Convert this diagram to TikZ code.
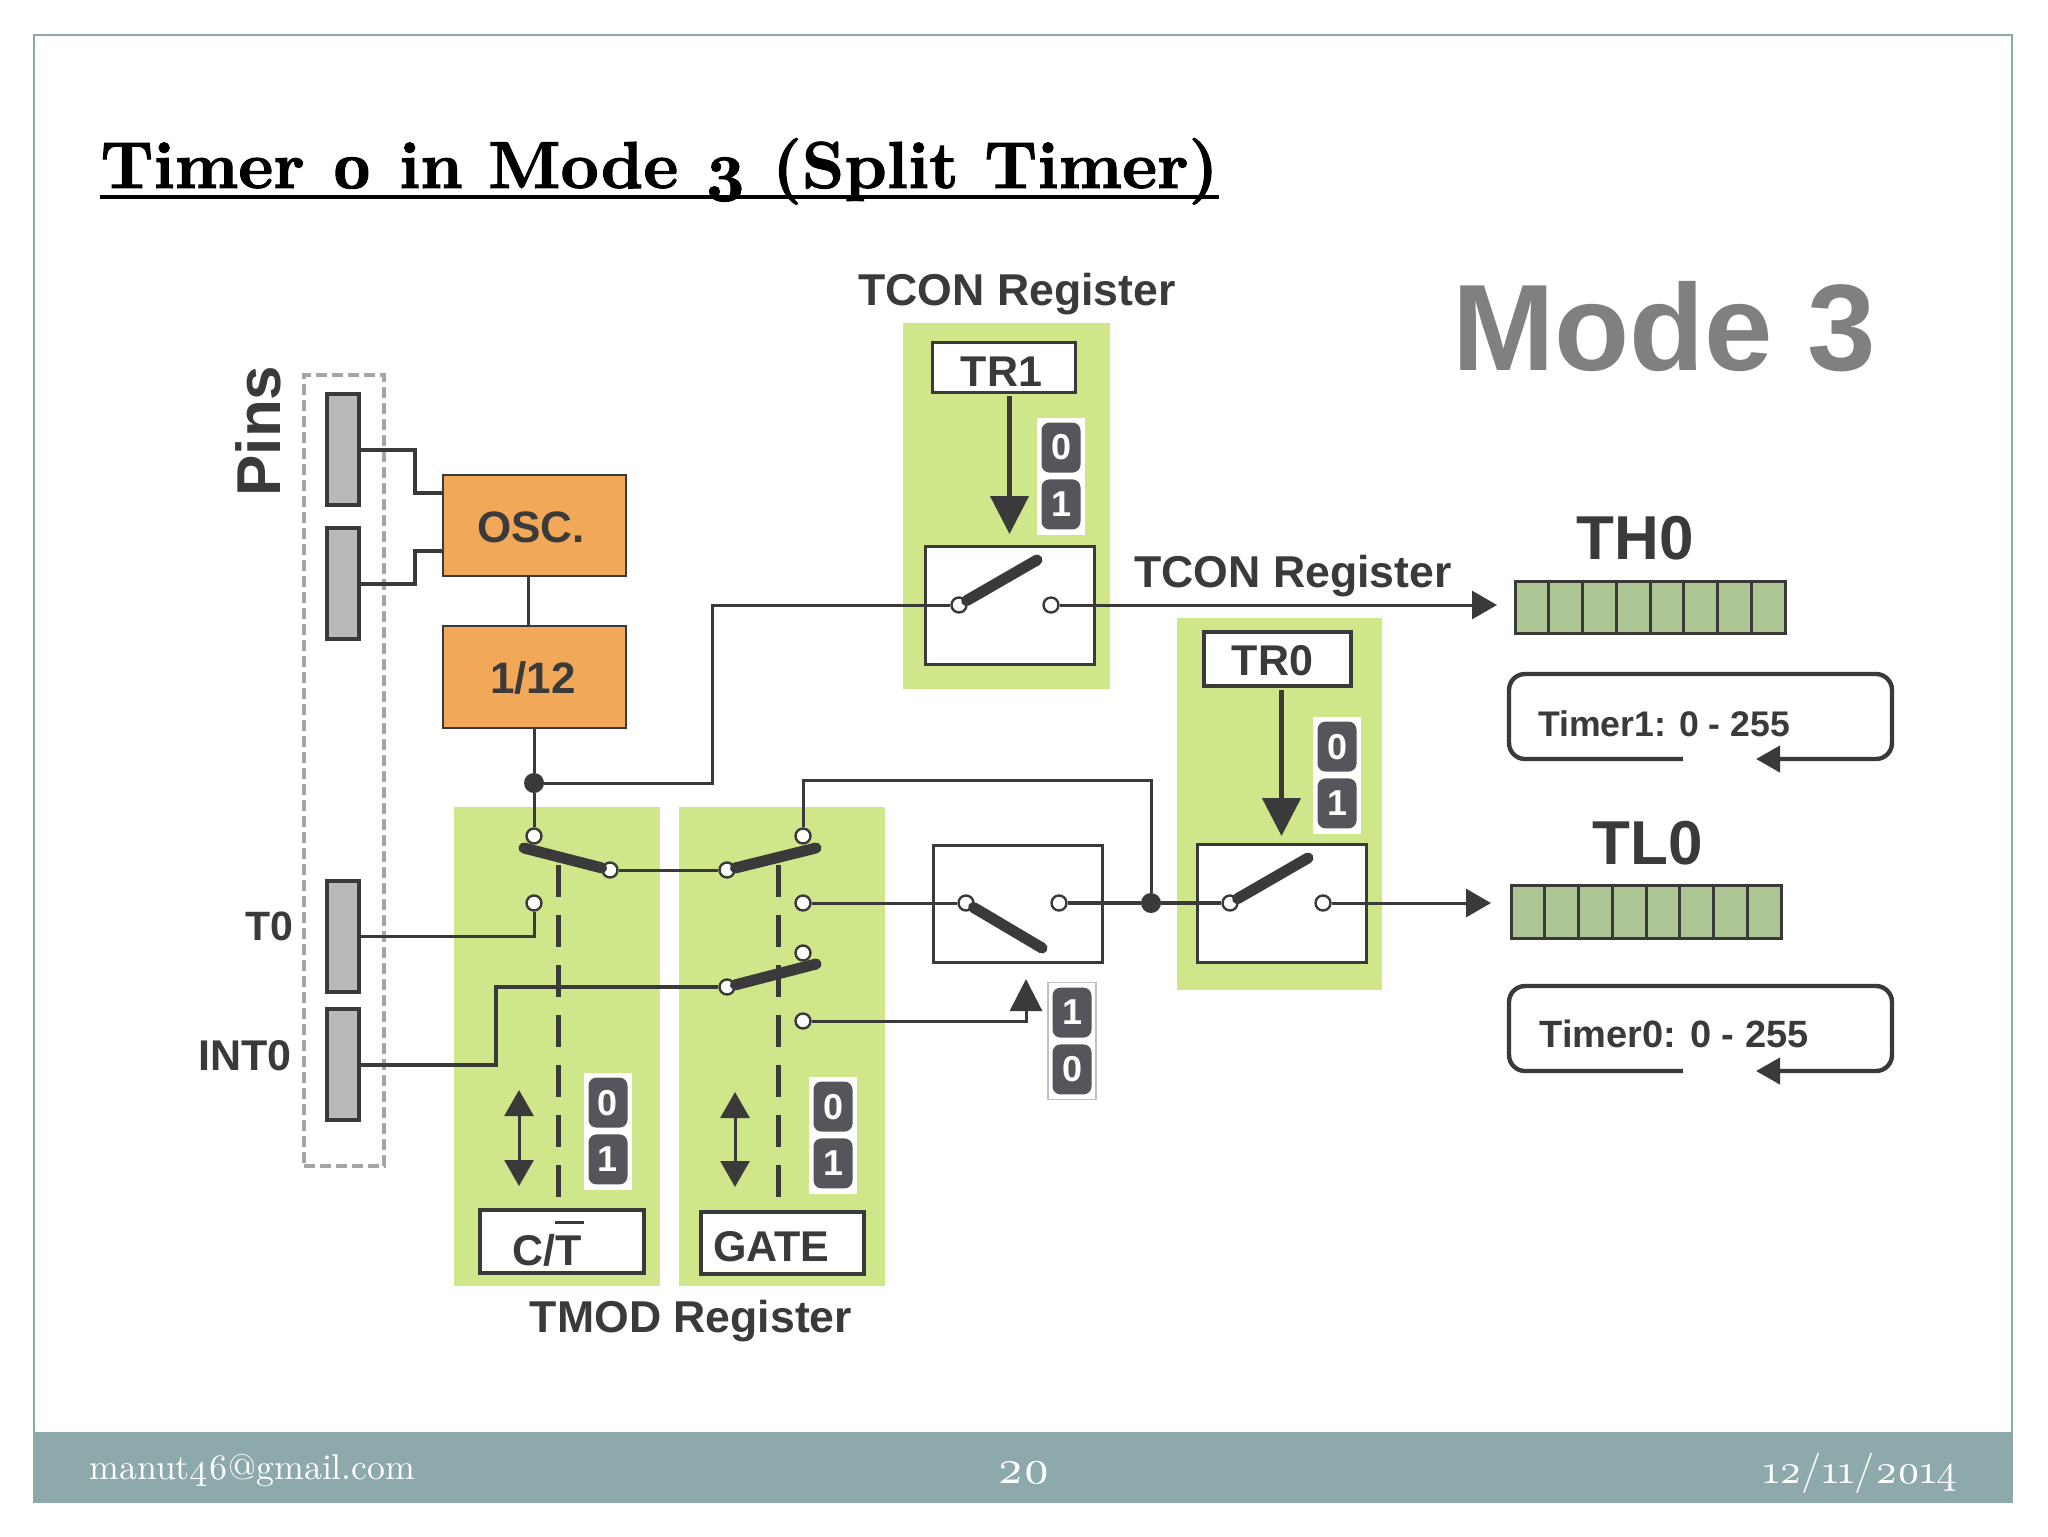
\documentclass[tikz,border=0pt]{standalone}
\usepackage{fontspec}
\setmainfont{Liberation Sans}
\newfontfamily\slidefont[Numbers=OldStyle]{lmroman10-regular.otf}
\newfontfamily\titlefont[Numbers=OldStyle,FakeBold=1.5]{lmroman10-bold.otf}
\usepackage{tikz}
\usetikzlibrary{positioning, fit, calc, arrows.meta}

\definecolor{frameC}{HTML}{8DA9AC}
\definecolor{lineC}{HTML}{3A3A3A}
\definecolor{panelC}{HTML}{CFE68A}
\definecolor{orangeC}{HTML}{F2A859}
\definecolor{pinC}{HTML}{B9B9B9}
\definecolor{bitC}{HTML}{55565C}
\definecolor{cellC}{HTML}{AEC594}
\newcommand{\fs}[1]{\fontsize{#1}{#1}\selectfont}

\begin{document}
\begin{tikzpicture}[x=0.5pt,y=-0.5pt]
    \tikzstyle{tag} = [inner sep=0,text=lineC,font=\bfseries\fs{22.3},anchor=base]
    \tikzstyle{block} = [rectangle,inner sep=0,outer sep=0,draw=lineC,fill=white,line width=1.5pt,text=lineC,font=\bfseries\fs{21.5}]
    \tikzstyle{panel} = [rectangle,inner sep=0,outer sep=0,fill=panelC]
    \tikzstyle{clock} = [block,fill=orangeC,line width=1.2pt,font=\bfseries\fs{22},minimum width=91.5pt]
    \tikzstyle{pinbar} = [block,fill=pinC,line width=2pt]
    \tikzstyle{cellbox} = [block,fill=cellC,line width=1.5pt]
    \tikzstyle{contact} = [circle,draw=lineC,fill=white,line width=1.2pt,minimum size=7.5pt,inner sep=0]
    \tikzstyle{dot} = [circle,fill=lineC,minimum size=10pt,inner sep=0]
    \tikzstyle{bitback} = [rectangle,fill=white,minimum width=24pt,minimum height=58.5pt,inner sep=0]
    \tikzstyle{bit} = [rectangle,fill=bitC,rounded corners=4pt,minimum width=19.5pt,minimum height=25pt,inner sep=0,text=white,font=\bfseries\fs{18}]
    \tikzstyle{wire} = [draw=lineC,line width=1.5pt]
    \tikzstyle{lever} = [draw=lineC,line width=5.5pt,line cap=round]
    \tikzstyle{pull} = [wire,line width=2.2pt,-{Triangle[length=19pt,width=19pt]}]
    \tikzstyle{outarrow} = [wire,-{Triangle[length=12.5pt,width=14pt]}]
    \tikzstyle{bothways} = [wire,{Triangle[length=13pt,width=14.5pt]}-{Triangle[length=13pt,width=14.5pt]}]
    \tikzstyle{loopline} = [draw=lineC,line width=2.2pt,rounded corners=8pt,-{Triangle[length=12pt,width=13pt]}]
    \tikzstyle{link} = [draw=lineC,line width=2.5pt,dash pattern=on 16pt off 9pt]

    \useasboundingbox (0,0) rectangle (2048,1536);
    \node (frame) [rectangle,draw=frameC,line width=1pt,inner sep=0,fit={(34,35) (2012,1502)}] {};
    \node (footer) [rectangle,fill=frameC,inner sep=0,fit={(34,1432) (2012,1502)}] {};

    % slide text
    \node (title) [inner sep=0,anchor=base west,font=\titlefont\fs{33.2}] at (100,188) {Timer 0 in Mode 3 (Split Timer)};
    \draw [line width=2pt] ($(title.base west)+(0,9)$) -- ($(title.base east)+(0,9)$);
    \node (mail) [inner sep=0,anchor=base west,text=white,font=\slidefont\fs{17.9}] at (89,1479) {manut46@gmail.com};
    \node (page) [inner sep=0,anchor=base,text=white,font=\slidefont\fs{23.5}] at (1024,1483) {20};
    \node (date) [inner sep=0,anchor=base east,text=white,font=\slidefont\fs{20.2}] at (1958,1483) {12/11/2014};
    \node (mode) [tag,text=gray,font=\bfseries\fs{61.5}] at (1664,370) {Mode 3};

    % pins
    \node (pinsbox) [rectangle,inner sep=0,draw=black!35,line width=2pt,dash pattern=on 5.5pt off 2.5pt,fit={(304,375) (384,1166)}] {};
    \node (pins) [inner sep=0,rotate=90,text=lineC,font=\bfseries\fs{31}] at (258,431) {Pins};
    \node (pinA) [pinbar,fit={(327,394) (359,505)}] {};
    \node (pinB) [pinbar,fit={(327,528) (359,639)}] {};
    \node (pinC) [pinbar,fit={(327,881) (359,992)}] {};
    \node (pinD) [pinbar,fit={(327,1009) (359,1120)}] {};
    \node (tzero) [tag,anchor=base east,font=\bfseries\fs{20.5}] at (294,940) {T0};
    \node (intzero) [tag,anchor=base east,font=\bfseries\fs{21.5}] at (292,1070) {INT0};

    \node (osc) [clock,minimum height=50.5pt,text height=17.5pt] at (534.5,525.5) {OSC.\kern3.5pt};
    \node (div) [clock,minimum height=51pt,text height=17pt] at (534.5,677) {1/12\kern1.5pt};
    \draw [wire,line width=2pt] (pinA.east) -- ++(56,0) |- ($(osc.west)+(0,-33)$);
    \draw [wire,line width=2pt] (pinB.east) -- ++(56,0) |- ($(osc.west)+(0,25)$);
    \draw [wire] ($(osc.south)+(-6,0)$) -- ($(div.north)+(-6,0)$);

    % green register panels
    \node (panelCT) [panel,fit={(454,807) (660,1286)}] {};
    \node (panelGate) [panel,fit={(679,807) (885,1286)}] {};
    \node (panelTRone) [panel,fit={(903,323) (1110,689)}] {};
    \node (panelTRzero) [panel,fit={(1177,618) (1382,990)}] {};
    \node (tconA) [tag] at (1017,305) {TCON Register};
    \node (tconB) [tag] at (1293,587) {TCON Register};
    \node (tmod) [tag] at (691,1332) {TMOD Register};

    % select bits
    \node (ct) [block,line width=2pt,minimum width=82pt,minimum height=31.5pt,text height=23.5pt,text depth=0pt] at (562,1241.5) {C/\rlap{\raisebox{20.5pt}{\rule{14.5pt}{1.5pt}}}T\kern15pt};
    \node (gate) [block,line width=2pt,minimum width=81.5pt,minimum height=31pt,text height=18pt,text depth=0pt] at (782.5,1243) {GATE\kern11pt};
    \node (trone) [block,line width=1.5pt,minimum width=71.5pt,minimum height=25pt,text height=19pt,text depth=0pt] at (1003.5,367) {TR1\kern2pt};
    \node (trzero) [block,line width=2pt,minimum width=73.5pt,minimum height=27pt,text height=16pt,text depth=0pt] at (1277.5,659) {TR0\kern5pt};

    \node (backA) [bitback] at (608,1131) {};
    \node (bitAa) [bit,above=1.5pt of backA.center] {0};
    \node (bitAb) [bit,below=1.5pt of backA.center] {1};
    \node (backB) [bitback] at (833,1135) {};
    \node (bitBa) [bit,above=1.5pt of backB.center] {0};
    \node (bitBb) [bit,below=1.5pt of backB.center] {1};
    \node (backC) [bitback] at (1061,476) {};
    \node (bitCa) [bit,above=1.5pt of backC.center] {0};
    \node (bitCb) [bit,below=1.5pt of backC.center] {1};
    \node (backD) [bitback] at (1337,775) {};
    \node (bitDa) [bit,above=1.5pt of backD.center] {0};
    \node (bitDb) [bit,below=1.5pt of backD.center] {1};
    \node (backE) [bitback,draw=black!25,line width=0.6pt] at (1072,1041) {};
    \node (bitEa) [bit,above=1.5pt of backE.center] {1};
    \node (bitEb) [bit,below=1.5pt of backE.center] {0};

    % switches
    \node (swOne) [block,fit={(925,546) (1094,664)}] {};
    \node (swTwo) [block,fit={(933,845) (1102,962)}] {};
    \node (swThree) [block,fit={(1197,844) (1366,962)}] {};

    \node (split) [dot] at (534,783) {};
    \node (join) [dot] at (1151,903) {};
    \node (ctPole) [contact] at (534,836) {};
    \node (ctLow) [contact] at (534,903) {};
    \node (ctOut) [contact] at (610,870) {};
    \node (gateIn) [contact] at (727,870) {};
    \node (gatePole) [contact] at (803,836) {};
    \node (gateLow) [contact] at (803,903) {};
    \node (intIn) [contact] at (727,987) {};
    \node (intPole) [contact] at (803,953) {};
    \node (intLow) [contact] at (803,1021) {};
    \node (oneIn) [contact] at (959,605) {};
    \node (oneOut) [contact] at (1051,605) {};
    \node (twoIn) [contact] at (966,903) {};
    \node (twoOut) [contact] at (1059,903) {};
    \node (threeIn) [contact] at (1230,903) {};
    \node (threeOut) [contact] at (1323,903) {};

    \coordinate (tipCT) at (524,848);
    \coordinate (tipGate) at (816,848);
    \coordinate (tipInt) at (816,964);
    \coordinate (tipOne) at (1037,560);
    \coordinate (tipTwo) at (1042,948);
    \coordinate (tipThree) at (1308,858);
    \draw [lever] (ctOut) -- (tipCT);
    \draw [lever] (gateIn) -- (tipGate);
    \draw [lever] (intIn) -- (tipInt);
    \draw [lever] (oneIn) -- (tipOne);
    \draw [lever] (twoIn) -- (tipTwo);
    \draw [lever] (threeIn) -- (tipThree);

    \coordinate (linkCT) at (558,865);
    \coordinate (linkGate) at (778,865);
    \draw [link] (linkCT) -- ($(linkCT |- ct.north)+(0,-12)$);
    \draw [link] (linkGate) -- ($(linkGate |- gate.north)+(0,-14)$);

    % wires
    \draw [wire] (div.south -| split) -- (split);
    \draw [wire] (split) -- (ctPole);
    \draw [wire] (split) -| (712,605) -- (oneIn);
    \draw [wire] (pinC.east) -| (ctLow);
    \draw [wire,line width=2pt] (pinD.east) -| (496,987) -- (intIn);
    \draw [wire] (ctOut) -- (gateIn);
    \draw [wire] (gatePole) |- (1151,780) -- (join);
    \draw [wire] (gateLow) -- (twoIn);
    \draw [wire,line width=2.2pt] (twoOut) -- (join);
    \draw [wire,line width=2.2pt] (join) -- (threeIn);

    \draw [pull,shorten <=2pt,shorten >=6pt] (trone.south -| swOne.north) -- (swOne.north);
    \draw [pull,shorten <=2pt,shorten >=4pt] (trzero.south -| swThree.north) -- (swThree.north);
    \coordinate (senseTwo) at (1026,979);
    \draw [outarrow,-{Triangle[length=16pt,width=16pt]}] (intLow) -| (senseTwo);
    \draw [bothways] (519,1090) -- (519,1186);
    \draw [bothways] (735,1092) -- (735,1187);

    % counters
    \node (thzero) [cellbox,fit={(1515,581) (1785,633)}] {};
    \node (tlzero) [cellbox,fit={(1511,885) (1781,938)}] {};
    \foreach \i in {1,...,7} {
        \draw [wire] ($(thzero.north west)!\i/8!(thzero.north east)$) -- ($(thzero.south west)!\i/8!(thzero.south east)$);
        \draw [wire] ($(tlzero.north west)!\i/8!(tlzero.north east)$) -- ($(tlzero.south west)!\i/8!(tlzero.south east)$);
    }
    \node (thname) [tag,font=\bfseries\fs{31}] at (1635,559) {TH0};
    \node (tlname) [tag,font=\bfseries\fs{31}] at (1648,864) {TL0};
    \draw [outarrow,shorten >=9pt] (oneOut) -- (oneOut -| thzero.west);
    \draw [outarrow,shorten >=10pt] (threeOut) -- (threeOut -| tlzero.west);

    \node (timerA) [tag,font=\bfseries\fs{17.8}] at (1664,736) {Timer1: 0 - 255};
    \node (timerB) [tag,font=\bfseries\fs{19}] at (1674,1047) {Timer0: 0 - 255};
    \coordinate (loopAs) at (1683,759);
    \coordinate (loopAe) at (1756,759);
    \coordinate (loopBs) at (1683,1071);
    \coordinate (loopBe) at (1756,1071);
    \draw [loopline] (loopAs) -- (1509,759) -- (1509,674) -- (1892,674) -- (1892,759) -- (loopAe);
    \draw [loopline] (loopBs) -- (1509,1071) -- (1509,986) -- (1892,986) -- (1892,1071) -- (loopBe);

\end{tikzpicture}
\end{document}
